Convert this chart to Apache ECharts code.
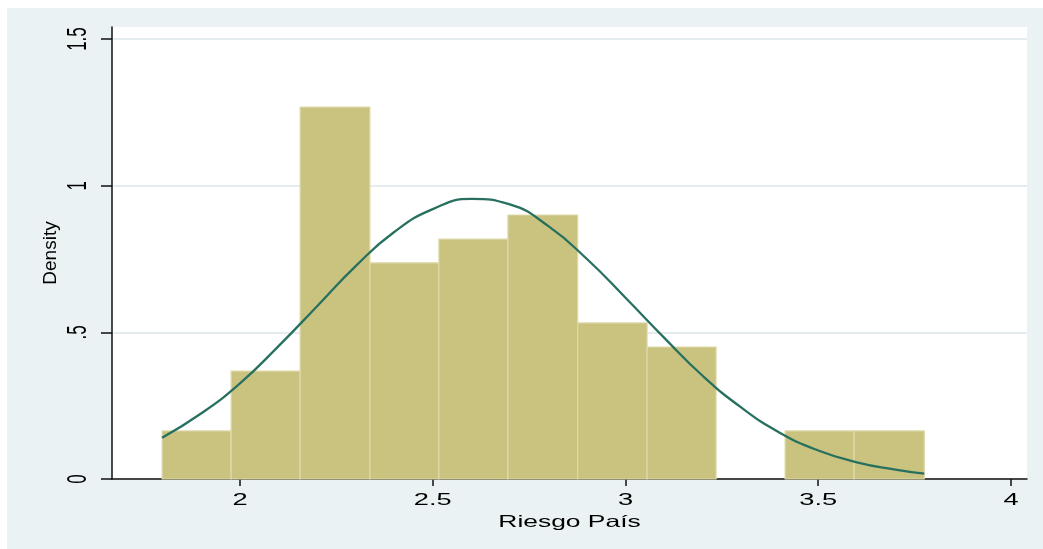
<!DOCTYPE html>
<html>
<head>
<meta charset="utf-8">
<script src="https://cdn.jsdelivr.net/npm/echarts@6/dist/echarts.min.js"></script>
<style>
  html, body { margin: 0; padding: 0; background: #ffffff; width: 1043px; height: 549px; overflow: hidden; }
  #chart { position: absolute; left: 7px; top: 8px; width: 1036px; height: 541px; }
</style>
</head>
<body>
<div id="chart"></div>
<script>
// Histogram bin edges (Riesgo País) and bar densities
const binEdges = [1.798, 1.977, 2.156, 2.337, 2.516, 2.695, 2.876, 3.056, 3.235, 3.414, 3.593, 3.775];
const densities = [0.164, 0.368, 1.268, 0.737, 0.818, 0.900, 0.532, 0.450, 0, 0.164, 0.164];

// Normal density overlay, sampled points (x, density)
const curveX = [1.798, 1.90, 2.00, 2.10, 2.20, 2.30, 2.40, 2.50, 2.60, 2.70, 2.80, 2.90, 3.00, 3.10, 3.20, 3.30, 3.40, 3.50, 3.60, 3.70, 3.775];
const curveY = [0.141, 0.224, 0.326, 0.453, 0.589, 0.726, 0.842, 0.920, 0.955, 0.936, 0.862, 0.750, 0.618, 0.482, 0.352, 0.244, 0.158, 0.097, 0.057, 0.032, 0.018];

// Axis ticks
const xTicks = [2, 2.5, 3, 3.5, 4];
const yTicks = [0, 0.5, 1, 1.5];

const bars = densities.map((d, i) => [binEdges[i], binEdges[i + 1], d]);
const curve = curveX.map((x, i) => [x, curveY[i]]);

const FONT = '"Liberation Sans", Arial, Helvetica, sans-serif';

const chart = echarts.init(document.getElementById('chart'), null, { renderer: 'canvas' });

chart.setOption({
  backgroundColor: '#EAF2F3',
  animation: false,
  grid: {
    left: 105, right: 16, top: 19, bottom: 70,
    show: true, backgroundColor: '#ffffff', borderWidth: 0
  },
  xAxis: {
    type: 'value',
    min: 1.668, max: 4.0415,
    name: 'Riesgo País',
    nameLocation: 'middle',
    nameGap: 29,
    nameTextStyle: { fontFamily: FONT, fontSize: 16.5, color: '#000' },
    axisLine: { show: true, lineStyle: { color: '#111', width: 1.5 } },
    axisTick: { show: true, length: 7, customValues: xTicks, lineStyle: { color: '#111', width: 1.5 } },
    axisLabel: { customValues: xTicks, margin: 13, fontFamily: FONT, fontSize: 16.5, color: '#000' },
    splitLine: { show: false }
  },
  yAxis: {
    type: 'value',
    min: 0, max: 1.541,
    name: 'Density',
    nameLocation: 'middle',
    nameGap: 52,
    nameRotate: 90,
    nameTextStyle: { fontFamily: FONT, fontSize: 19, color: '#000' },
    axisLine: { show: true, lineStyle: { color: '#111', width: 1.5 } },
    axisTick: { show: true, length: 11, customValues: yTicks, lineStyle: { color: '#111', width: 1.5 } },
    axisLabel: {
      customValues: yTicks, rotate: 90, margin: 20,
      fontFamily: FONT, fontSize: 17, color: '#000',
      formatter: v => (v > 0 && v < 1 ? String(v).replace(/^0/, '') : String(v))
    },
    splitLine: { show: true, lineStyle: { color: '#E4ECEF', width: 2 } }
  },
  series: [
    {
      type: 'custom',
      data: bars,
      encode: { x: [0, 1], y: 2 },
      renderItem: function (params, api) {
        if (!(api.value(2) > 0)) return null;
        const p0 = api.coord([api.value(0), api.value(2)]);
        const p1 = api.coord([api.value(1), 0]);
        return {
          type: 'rect',
          shape: { x: p0[0], y: p0[1], width: p1[0] - p0[0], height: p1[1] - p0[1] },
          style: { fill: '#CAC37F', stroke: '#DDD9AA', lineWidth: 1.2 }
        };
      },
      z: 2
    },
    {
      type: 'line',
      data: curve,
      smooth: true,
      symbol: 'none',
      lineStyle: { color: '#27705F', width: 2.3 },
      z: 3
    }
  ]
});

// Axis text is set wide: stretch horizontal labels along x, and the
// rotated tick labels along their local y (which runs across the page).
function widenAxisText() {
  const zr = chart.getZr();
  const seen = new Set();
  zr.storage.getDisplayList(true).forEach(el => {
    let t = null;
    if (el.type === 'text') t = el;
    else if (el.type === 'tspan' && el.parent && el.parent.type === 'text') t = el.parent;
    if (!t || seen.has(t) || !t.style || t.style.text == null) return;
    seen.add(t);
    const txt = String(t.style.text);
    const rotated = Math.abs(Math.abs(t.rotation || 0) - Math.PI / 2) < 0.01;
    if (txt === 'Density') return;
    if (txt === 'Riesgo País') { t.scaleX = 1.6; }
    else if (rotated) { t.scaleY = 1.65; }
    else { t.scaleX = 1.65; }
    t.markRedraw();
  });
  zr.refresh();
}
widenAxisText();
</script>
</body>
</html>
